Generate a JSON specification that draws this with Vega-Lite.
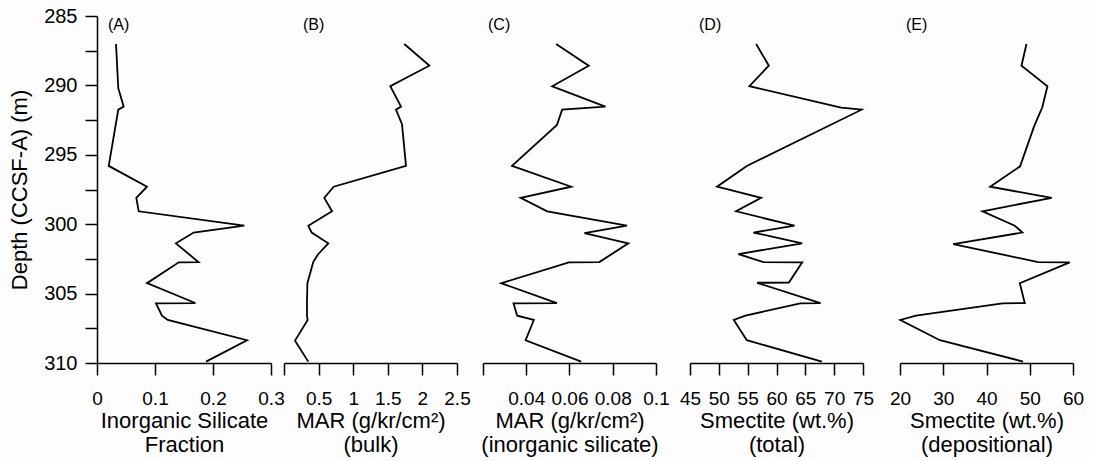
{
  "$schema": "https://vega.github.io/schema/vega-lite/v6.json",
  "padding": {"top": 6, "left": 8, "right": 5, "bottom": 5},
  "background": "#fdfdfd",
  "config": {
    "font": "Liberation Sans",
    "view": {"stroke": null},
    "axis": {
      "grid": false,
      "domainColor": "black",
      "domainWidth": 1.5,
      "tickColor": "black",
      "tickWidth": 1.5,
      "tickSize": 12,
      "labelColor": "black",
      "labelFont": "Liberation Sans",
      "labelFontSize": 19,
      "labelPadding": 14,
      "labelOverlap": false,
      "labelBound": false,
      "labelFlush": false,
      "titleColor": "black",
      "titleFont": "Liberation Sans",
      "titleFontSize": 22,
      "titleFontWeight": "normal",
      "titleLineHeight": 24,
      "titlePadding": 2
    },
    "title": {"font": "Liberation Sans", "fontSize": 16, "fontWeight": "normal", "color": "black", "anchor": "start", "frame": "group", "baseline": "bottom", "offset": -17}
  },
  "data": {"values": [
    {"p":"A","n":1,"depth":287.02,"v":0.0328},
    {"p":"A","n":3,"depth":290.2,"v":0.0367},
    {"p":"A","n":4,"depth":291.53,"v":0.046},
    {"p":"A","n":5,"depth":291.75,"v":0.0367},
    {"p":"A","n":7,"depth":295.8,"v":0.0202},
    {"p":"A","n":8,"depth":297.3,"v":0.0862},
    {"p":"A","n":9,"depth":298.1,"v":0.0678},
    {"p":"A","n":10,"depth":299.07,"v":0.0719},
    {"p":"A","n":11,"depth":300.11,"v":0.254},
    {"p":"A","n":12,"depth":300.6,"v":0.1667},
    {"p":"A","n":13,"depth":301.38,"v":0.136},
    {"p":"A","n":15,"depth":302.73,"v":0.175},
    {"p":"A","n":16,"depth":302.75,"v":0.141},
    {"p":"A","n":17,"depth":304.25,"v":0.0862},
    {"p":"A","n":19,"depth":305.68,"v":0.1695},
    {"p":"A","n":20,"depth":305.7,"v":0.1017},
    {"p":"A","n":21,"depth":306.59,"v":0.112},
    {"p":"A","n":22,"depth":306.9,"v":0.122},
    {"p":"A","n":23,"depth":308.36,"v":0.2586},
    {"p":"A","n":24,"depth":309.9,"v":0.188},

    {"p":"B","n":1,"depth":287.02,"v":1.738},
    {"p":"B","n":2,"depth":288.58,"v":2.1},
    {"p":"B","n":3,"depth":290.06,"v":1.536},
    {"p":"B","n":4,"depth":291.53,"v":1.691},
    {"p":"B","n":5,"depth":291.75,"v":1.618},
    {"p":"B","n":6,"depth":292.8,"v":1.705},
    {"p":"B","n":7,"depth":295.8,"v":1.763},
    {"p":"B","n":8,"depth":297.3,"v":0.718},
    {"p":"B","n":9,"depth":298.1,"v":0.582},
    {"p":"B","n":10,"depth":299.07,"v":0.694},
    {"p":"B","n":11,"depth":300.11,"v":0.351},
    {"p":"B","n":12,"depth":300.6,"v":0.4},
    {"p":"B","n":13,"depth":301.38,"v":0.64},
    {"p":"B","n":14,"depth":302.2,"v":0.487},
    {"p":"B","n":15,"depth":302.73,"v":0.423},
    {"p":"B","n":17,"depth":304.25,"v":0.338},
    {"p":"B","n":19,"depth":305.68,"v":0.332},
    {"p":"B","n":21,"depth":306.59,"v":0.332},
    {"p":"B","n":22,"depth":306.9,"v":0.342},
    {"p":"B","n":23,"depth":308.39,"v":0.159},
    {"p":"B","n":24,"depth":309.9,"v":0.351},

    {"p":"C","n":1,"depth":287.02,"v":0.0538},
    {"p":"C","n":2,"depth":288.58,"v":0.0689},
    {"p":"C","n":3,"depth":290.06,"v":0.052},
    {"p":"C","n":4,"depth":291.53,"v":0.0766},
    {"p":"C","n":5,"depth":291.75,"v":0.0566},
    {"p":"C","n":6,"depth":292.85,"v":0.0542},
    {"p":"C","n":7,"depth":295.8,"v":0.0334},
    {"p":"C","n":8,"depth":297.3,"v":0.0608},
    {"p":"C","n":9,"depth":298.1,"v":0.0374},
    {"p":"C","n":10,"depth":299.07,"v":0.0497},
    {"p":"C","n":11,"depth":300.11,"v":0.0866},
    {"p":"C","n":12,"depth":300.65,"v":0.0669},
    {"p":"C","n":13,"depth":301.38,"v":0.0872},
    {"p":"C","n":15,"depth":302.73,"v":0.0738},
    {"p":"C","n":16,"depth":302.75,"v":0.0597},
    {"p":"C","n":17,"depth":304.25,"v":0.0284},
    {"p":"C","n":19,"depth":305.68,"v":0.0542},
    {"p":"C","n":20,"depth":305.7,"v":0.0341},
    {"p":"C","n":21,"depth":306.59,"v":0.0358},
    {"p":"C","n":22,"depth":306.9,"v":0.0435},
    {"p":"C","n":23,"depth":308.36,"v":0.0397},
    {"p":"C","n":24,"depth":309.9,"v":0.0654},

    {"p":"D","n":1,"depth":287.02,"v":56.47},
    {"p":"D","n":2,"depth":288.58,"v":58.67},
    {"p":"D","n":3,"depth":290.06,"v":55.3},
    {"p":"D","n":4,"depth":291.6,"v":71.2},
    {"p":"D","n":5,"depth":291.75,"v":74.75},
    {"p":"D","n":7,"depth":295.8,"v":54.85},
    {"p":"D","n":8,"depth":297.3,"v":49.69},
    {"p":"D","n":9,"depth":298.1,"v":57.33},
    {"p":"D","n":10,"depth":299.07,"v":52.99},
    {"p":"D","n":11,"depth":300.11,"v":63.12},
    {"p":"D","n":12,"depth":300.6,"v":56.0},
    {"p":"D","n":13,"depth":301.38,"v":64.46},
    {"p":"D","n":14,"depth":302.15,"v":53.39},
    {"p":"D","n":15,"depth":302.73,"v":57.73},
    {"p":"D","n":16,"depth":302.75,"v":64.46},
    {"p":"D","n":17,"depth":304.2,"v":62.15},
    {"p":"D","n":18,"depth":304.22,"v":56.64},
    {"p":"D","n":19,"depth":305.68,"v":67.64},
    {"p":"D","n":20,"depth":305.7,"v":64.11},
    {"p":"D","n":21,"depth":306.59,"v":54.61},
    {"p":"D","n":22,"depth":306.9,"v":52.59},
    {"p":"D","n":23,"depth":308.36,"v":54.85},
    {"p":"D","n":24,"depth":309.9,"v":67.88},

    {"p":"E","n":1,"depth":287.02,"v":49.24},
    {"p":"E","n":2,"depth":288.58,"v":48.09},
    {"p":"E","n":3,"depth":290.06,"v":54.09},
    {"p":"E","n":4,"depth":291.58,"v":52.9},
    {"p":"E","n":6,"depth":292.95,"v":51.0},
    {"p":"E","n":7,"depth":295.83,"v":47.77},
    {"p":"E","n":8,"depth":297.3,"v":40.84},
    {"p":"E","n":9,"depth":298.1,"v":55.08},
    {"p":"E","n":10,"depth":299.07,"v":39.08},
    {"p":"E","n":11,"depth":300.11,"v":46.54},
    {"p":"E","n":12,"depth":300.6,"v":48.3},
    {"p":"E","n":13,"depth":301.43,"v":32.3},
    {"p":"E","n":15,"depth":302.73,"v":51.92},
    {"p":"E","n":16,"depth":302.75,"v":59.24},
    {"p":"E","n":17,"depth":304.25,"v":47.7},
    {"p":"E","n":19,"depth":305.68,"v":48.85},
    {"p":"E","n":20,"depth":305.7,"v":43.7},
    {"p":"E","n":21,"depth":306.59,"v":23.69},
    {"p":"E","n":22,"depth":306.9,"v":20.07},
    {"p":"E","n":23,"depth":308.36,"v":29.23},
    {"p":"E","n":24,"depth":309.9,"v":48.46}
  ]},
  "spacing": 0,
  "bounds": "flush",
  "hconcat": [
    {
      "width": 174, "height": 347,
      "title": {"text": "(A)", "dx": 11, "offset": -27},
      "transform": [{"filter": "datum.p === 'A'"}],
      "mark": {"type": "line", "color": "black", "strokeWidth": 1.8},
      "encoding": {
        "x": {"field": "v", "type": "quantitative",
          "scale": {"domain": [0, 0.3], "nice": false, "zero": false},
          "axis": {"values": [0, 0.1, 0.2, 0.3], "format": ".1~f", "title": ["Inorganic Silicate", "Fraction"]}},
        "y": {"field": "depth", "type": "quantitative",
          "scale": {"domain": [285, 310], "reverse": true, "nice": false, "zero": false},
          "axis": {"values": [285, 287.5, 290, 292.5, 295, 297.5, 300, 302.5, 305, 307.5, 310],
            "format": "d",
            "labelExpr": "datum.value % 5 === 0 ? datum.label : ''",
            "labelFontSize": 20, "labelPadding": 8, "titlePadding": 12,
            "title": "Depth (CCSF-A) (m)"}},
        "order": {"field": "n", "type": "quantitative"}
      }
    },
    {
      "width": 186, "height": 347,
      "title": {"text": "(B)", "dx": 32},
      "transform": [{"filter": "datum.p === 'B'"}],
      "mark": {"type": "line", "color": "black", "strokeWidth": 1.8},
      "encoding": {
        "x": {"field": "v", "type": "quantitative",
          "scale": {"domain": [0, 2.5], "range": [13, 186], "nice": false, "zero": false},
          "axis": {"values": [0, 0.5, 1, 1.5, 2, 2.5], "format": ".1~f",
            "labelExpr": "datum.value === 0 ? '' : datum.label",
            "title": ["MAR (g/kr/cm²)", "(bulk)"]}},
        "y": {"field": "depth", "type": "quantitative",
          "scale": {"domain": [285, 310], "reverse": true, "nice": false, "zero": false},
          "axis": null},
        "order": {"field": "n", "type": "quantitative"}
      }
    },
    {
      "width": 199, "height": 347,
      "title": {"text": "(C)", "dx": 31},
      "transform": [{"filter": "datum.p === 'C'"}],
      "mark": {"type": "line", "color": "black", "strokeWidth": 1.8},
      "encoding": {
        "x": {"field": "v", "type": "quantitative",
          "scale": {"domain": [0.02, 0.1], "range": [26, 199], "nice": false, "zero": false},
          "axis": {"values": [0.02, 0.04, 0.06, 0.08, 0.1], "format": ".2~f",
            "labelExpr": "datum.value < 0.03 ? '' : datum.label",
            "title": ["MAR (g/kr/cm²)", "(inorganic silicate)"]}},
        "y": {"field": "depth", "type": "quantitative",
          "scale": {"domain": [285, 310], "reverse": true, "nice": false, "zero": false},
          "axis": null},
        "order": {"field": "n", "type": "quantitative"}
      }
    },
    {
      "width": 207, "height": 347,
      "title": {"text": "(D)", "dx": 43},
      "transform": [{"filter": "datum.p === 'D'"}],
      "mark": {"type": "line", "color": "black", "strokeWidth": 1.8},
      "encoding": {
        "x": {"field": "v", "type": "quantitative",
          "scale": {"domain": [45, 75], "range": [34, 207], "nice": false, "zero": false},
          "axis": {"values": [45, 50, 55, 60, 65, 70, 75], "format": "d",
            "title": ["Smectite (wt.%)", "(total)"]}},
        "y": {"field": "depth", "type": "quantitative",
          "scale": {"domain": [285, 310], "reverse": true, "nice": false, "zero": false},
          "axis": null},
        "order": {"field": "n", "type": "quantitative"}
      }
    },
    {
      "width": 210, "height": 347,
      "title": {"text": "(E)", "dx": 43},
      "transform": [{"filter": "datum.p === 'E'"}],
      "mark": {"type": "line", "color": "black", "strokeWidth": 1.8},
      "encoding": {
        "x": {"field": "v", "type": "quantitative",
          "scale": {"domain": [20, 60], "range": [37, 210], "nice": false, "zero": false},
          "axis": {"values": [20, 30, 40, 50, 60], "format": "d",
            "title": ["Smectite (wt.%)", "(depositional)"]}},
        "y": {"field": "depth", "type": "quantitative",
          "scale": {"domain": [285, 310], "reverse": true, "nice": false, "zero": false},
          "axis": null},
        "order": {"field": "n", "type": "quantitative"}
      }
    }
  ]
}
